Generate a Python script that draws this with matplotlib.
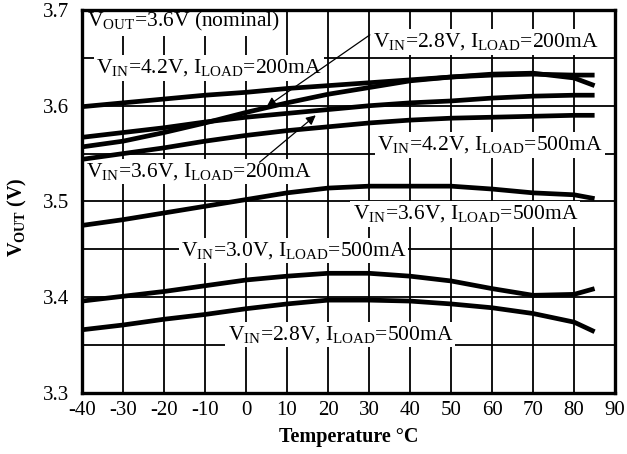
import matplotlib
matplotlib.use("Agg")
import matplotlib.pyplot as plt
import numpy as np

plt.rcParams['font.family'] = ['Liberation Serif', 'DejaVu Serif']
plt.rcParams['mathtext.fontset'] = 'custom'
plt.rcParams['mathtext.rm'] = 'Liberation Serif'
plt.rcParams['mathtext.it'] = 'Liberation Serif:italic'
plt.rcParams['mathtext.bf'] = 'Liberation Serif:bold'
plt.rcParams['axes.unicode_minus'] = False

temps = [-40, -30, -20, -10, 0, 10, 20, 30, 40, 50, 60, 70, 80, 85]

vin42_200 = [3.599, 3.603, 3.607, 3.611, 3.614, 3.618, 3.621, 3.624, 3.627, 3.630, 3.632, 3.633, 3.632, 3.632]
vin28_200 = [3.557, 3.563, 3.572, 3.582, 3.593, 3.603, 3.612, 3.619, 3.626, 3.630, 3.633, 3.634, 3.629, 3.621]
vin36_200 = [3.567, 3.572, 3.577, 3.583, 3.588, 3.592, 3.596, 3.600, 3.603, 3.605, 3.608, 3.610, 3.611, 3.611]
vin42_500 = [3.544, 3.550, 3.556, 3.563, 3.569, 3.574, 3.578, 3.582, 3.585, 3.587, 3.588, 3.589, 3.590, 3.590]
vin36_500 = [3.475, 3.481, 3.488, 3.495, 3.502, 3.509, 3.514, 3.516, 3.516, 3.516, 3.513, 3.509, 3.507, 3.503]
vin30_500 = [3.396, 3.401, 3.406, 3.412, 3.418, 3.422, 3.425, 3.425, 3.422, 3.417, 3.409, 3.402, 3.403, 3.409]
vin28_500 = [3.366, 3.371, 3.377, 3.382, 3.388, 3.393, 3.397, 3.397, 3.396, 3.393, 3.389, 3.383, 3.374, 3.364]

series = [vin42_200, vin28_200, vin36_200, vin42_500, vin36_500, vin30_500, vin28_500]

xticks = [-40, -30, -20, -10, 0, 10, 20, 30, 40, 50, 60, 70, 80, 90]
yticks = [3.3, 3.4, 3.5, 3.6, 3.7]
ygrid = [3.35, 3.4, 3.45, 3.5, 3.55, 3.6, 3.65]

fig = plt.figure(figsize=(6.27, 4.54), dpi=100)
ax = fig.add_axes([0.1308, 0.1344, 0.8502, 0.8436])

ax.set_xlim(-40, 90)
ax.set_ylim(3.3, 3.7)

for xv in xticks[1:-1]:
    ax.axvline(xv, color='black', lw=1.3, zorder=1)
for yv in ygrid:
    ax.axhline(yv, color='black', lw=1.3, zorder=1)

for s in series:
    ax.plot(temps, s, color='black', lw=3.4, zorder=4, solid_capstyle='butt')

ax.set_xticks(xticks)
ax.set_xticklabels([str(v) for v in xticks])
ax.set_yticks(yticks)
ax.set_yticklabels([f"{v:.1f}" for v in yticks])
ax.tick_params(axis='both', length=0, labelsize=15)
ax.tick_params(axis='y', pad=9)
ax.tick_params(axis='x', pad=6)
for sp in ax.spines.values():
    sp.set_linewidth(2.4)
    sp.set_zorder(5)

ax.set_xlabel('Temperature °C', fontsize=14.5, fontweight='bold', labelpad=5)
ax.set_ylabel(r'V$_{\mathbf{OUT}}$ (V)', fontsize=14.5, fontweight='bold')
ax.yaxis.set_label_coords(-0.10, 0.46)

box = dict(facecolor='white', edgecolor='none', pad=1.5)
fs = 15.5

def lab(vin, iload):
    return r'V$_{\rm IN}$=' + vin + r', I$_{\rm LOAD}$=' + iload

ax.text(-38.8, 3.6875, r'V$_{\rm OUT}$=3.6V (nominal)', fontsize=fs, ha='left', va='center', bbox=box, zorder=3)
ax.text(-36.6, 3.6395, lab('4.2V', '200mA'), fontsize=fs, ha='left', va='center', bbox=box, zorder=3)
ax.text(31.0, 3.6666, lab('2.8V', '200mA'), fontsize=fs, ha='left', va='center', bbox=box, zorder=3)
ax.text(-39.0, 3.531, lab('3.6V', '200mA'), fontsize=fs, ha='left', va='center', bbox=box, zorder=3)
ax.text(32.0, 3.559, lab('4.2V', '500mA'), fontsize=fs, ha='left', va='center', bbox=box, zorder=3)
ax.text(26.0, 3.487, lab('3.6V', '500mA'), fontsize=fs, ha='left', va='center', bbox=box, zorder=3)
ax.text(-15.9, 3.449, lab('3.0V', '500mA'), fontsize=fs, ha='left', va='center', bbox=box, zorder=3)
ax.text(-4.5, 3.361, lab('2.8V', '500mA'), fontsize=fs, ha='left', va='center', bbox=box, zorder=3)

arrow = dict(arrowstyle='-|>', color='black', lw=0.9, mutation_scale=14, shrinkA=0, shrinkB=0)
ax.annotate('', xy=(5.0, 3.599), xytext=(30.2, 3.674), arrowprops=arrow, zorder=6)
ax.annotate('', xy=(17.0, 3.590), xytext=(3.3, 3.541), arrowprops=arrow, zorder=6)

fig.savefig('out.png', dpi=100)
